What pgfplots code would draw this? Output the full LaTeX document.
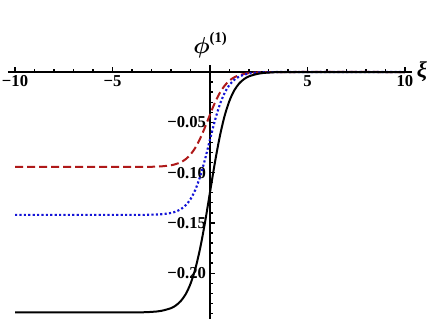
\documentclass[border=0pt]{standalone}
\usepackage{fontspec}
\setmainfont{Liberation Serif}
\usepackage{bm}
\usepackage{pgfplots}
\pgfplotsset{compat=1.18}
\definecolor{cred}{RGB}{175,25,25}
\definecolor{cblue}{RGB}{20,20,215}
\begin{document}
\begin{tikzpicture}
\path[use as bounding box] (0,0) rectangle (327pt,239.25pt);
\begin{axis}[
  at={(6pt,0pt)}, anchor=south west,
  scale only axis, width=303pt, height=190.5pt,
  xmin=-10.36, xmax=10.36, ymin=-0.2455, ymax=0.00696,
  axis lines=middle,
  axis line style={line width=1.5pt, -},
  tick align=inside,
  xtick={-10,-5,5,10},
  xticklabels={−10,−5,5,10},
  minor xtick={-9,-8,-7,-6,-4,-3,-2,-1,1,2,3,4,6,7,8,9},
  ytick={-0.2,-0.15,-0.1,-0.05},
  yticklabels={−0.20,−0.15,−0.10,−0.05},
  minor ytick={-0.24,-0.23,-0.22,-0.21,-0.19,-0.18,-0.17,-0.16,-0.14,-0.13,-0.12,-0.11,-0.09,-0.08,-0.07,-0.06,-0.04,-0.03,-0.02,-0.01},
  major tick length=4pt, minor tick length=2.5pt,
  tick style={line width=1pt, black},
  ticklabel style={font=\fontsize{12.5}{13}\selectfont\bfseries},
  xticklabel style={yshift=1pt},
  yticklabel style={xshift=0.5pt},
  xlabel={\textit{ξ}}, ylabel={$\bm{\phi}$\raisebox{0.5em}{\fontsize{11}{12}\selectfont(1)}},
  xlabel style={at={(current axis.right of origin)}, anchor=west, font=\fontsize{17}{18}\selectfont\bfseries, xshift=0pt},
  ylabel style={at={(current axis.above origin)}, anchor=south, font=\fontsize{16}{18}\selectfont\bfseries, yshift=2pt},
  clip=false,
]
\addplot[cred, line width=1.5pt, dash pattern=on 6pt off 3pt, smooth] coordinates {
(-10,-0.0944) (-4,-0.0944) (-3,-0.0942) (-2.5,-0.0938) (-2,-0.0927) (-1.75,-0.0915) (-1.5,-0.0897) (-1.25,-0.0867) (-1,-0.0820) (-0.75,-0.0752) (-0.5,-0.0659) (-0.25,-0.0546) (0,-0.0423) (0.25,-0.0306) (0.5,-0.0209) (0.75,-0.0136) (1,-0.0085) (1.25,-0.0052) (1.5,-0.0032) (1.75,-0.0019) (2,-0.0011) (2.5,-0.0004) (3,-0.0001) (4,0) (10,0)};
\addplot[cblue, line width=1.6pt, dash pattern=on 1.6pt off 1.7pt, smooth] coordinates {
(-10,-0.1420) (-4,-0.1420) (-3,-0.1418) (-2.5,-0.1414) (-2,-0.1401) (-1.75,-0.1387) (-1.5,-0.1364) (-1.25,-0.1325) (-1,-0.1264) (-0.75,-0.1169) (-0.5,-0.1035) (-0.25,-0.0864) (0,-0.0671) (0.25,-0.0484) (0.5,-0.0326) (0.75,-0.0208) (1,-0.0128) (1.25,-0.0077) (1.5,-0.0045) (1.75,-0.0027) (2,-0.0015) (2.5,-0.0005) (3,-0.0002) (4,0) (10,0)};
\addplot[black, line width=1.5pt, smooth] coordinates {
(-10,-0.2390) (-4,-0.2389) (-3,-0.2384) (-2.5,-0.2374) (-2,-0.2347) (-1.75,-0.2320) (-1.5,-0.2277) (-1.25,-0.2209) (-1,-0.2105) (-0.75,-0.1954) (-0.5,-0.1747) (-0.25,-0.1488) (0,-0.1195) (0.25,-0.0902) (0.5,-0.0643) (0.75,-0.0436) (1,-0.0285) (1.25,-0.0181) (1.5,-0.0113) (1.75,-0.0070) (2,-0.0043) (2.5,-0.0016) (3,-0.0006) (4,-0.0001) (10,0)};
\end{axis}
\end{tikzpicture}
\end{document}
